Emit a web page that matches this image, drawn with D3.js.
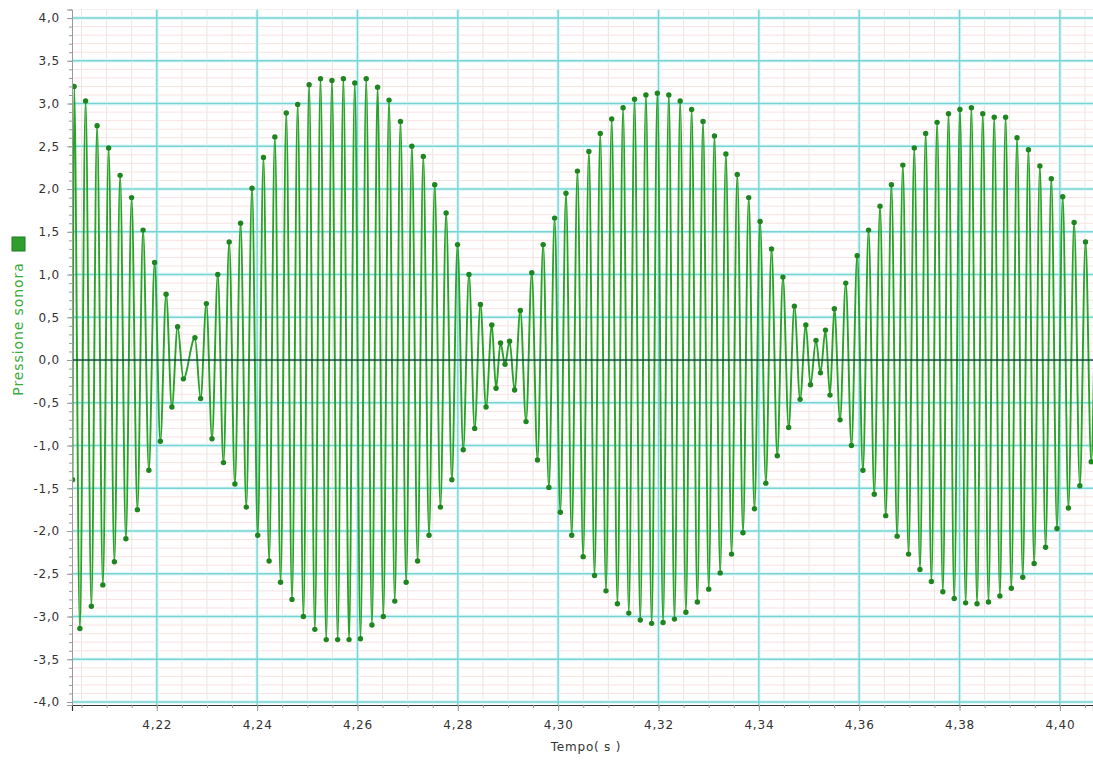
<!DOCTYPE html>
<html><head><meta charset="utf-8">
<script src="https://cdn.jsdelivr.net/npm/d3@7"></script>
<style>
body{margin:0;background:#fff;}
svg{display:block;}
text{font-family:"DejaVu Sans",Verdana,sans-serif;}
</style>
</head><body>
<svg id="chart" width="1093" height="761"></svg>
<script>
// ---- data (time in s, pressure in arbitrary units) ----
const peakTimes = [
 4.20352,4.20581,4.20810,4.21040,4.21269,4.21498,4.21727,4.21956,4.22186,4.22415,
 4.22760,4.22988,4.23215,4.23443,4.23670,4.23898,4.24126,4.24353,4.24581,4.24808,
 4.25036,4.25263,4.25491,4.25719,4.25946,4.26174,4.26401,4.26629,4.26857,4.27084,
 4.27312,4.27539,4.27767,4.27994,4.28222,4.28450,4.28677,
 4.28851,4.29031,
 4.29246,4.29474,4.29701,4.29929,4.30156,4.30384,4.30612,4.30839,4.31067,4.31294,
 4.31522,4.31749,4.31977,4.32205,4.32432,4.32660,4.32887,4.33115,4.33343,4.33570,
 4.33798,4.34025,4.34253,4.34480,4.34708,4.34936,
 4.35139,4.35328,
 4.35505,4.35732,4.35960,4.36187,4.36415,4.36642,4.36870,4.37098,4.37325,4.37553,
 4.37780,4.38008,4.38236,4.38463,4.38691,4.38918,4.39146,4.39373,4.39601,4.39829,
 4.40056,4.40284,4.40511,4.40739
];
const peakValues = [
 3.20,3.03,2.74,2.48,2.16,1.90,1.52,1.14,0.77,0.39,
 0.26,0.66,1.00,1.38,1.60,2.01,2.37,2.61,2.89,2.99,
 3.22,3.29,3.27,3.29,3.24,3.29,3.19,3.04,2.79,2.50,
 2.38,2.05,1.72,1.35,1.00,0.65,0.41,
 0.20,0.22,
 0.58,1.02,1.35,1.66,1.95,2.21,2.44,2.65,2.82,2.95,
 3.05,3.10,3.12,3.10,3.03,2.93,2.79,2.62,2.41,2.17,
 1.90,1.62,1.30,0.97,0.63,0.41,
 0.23,0.35,
 0.60,0.90,1.22,1.52,1.80,2.05,2.28,2.48,2.65,2.78,
 2.88,2.93,2.95,2.88,2.84,2.84,2.60,2.46,2.27,2.12,
 1.91,1.61,1.38,1.15
];
const troughTimes = [
 4.20320,
 4.20467,4.20696,4.20925,4.21155,4.21384,4.21613,4.21842,4.22071,4.22301,4.22530,
 4.22874,4.23101,4.23329,4.23557,4.23784,4.24012,4.24239,4.24467,4.24695,4.24922,
 4.25150,4.25377,4.25605,4.25832,4.26060,4.26288,4.26515,4.26743,4.26970,4.27198,
 4.27426,4.27653,4.27881,4.28108,4.28336,4.28563,
 4.28762,4.28941,4.29132,
 4.29360,4.29588,4.29815,4.30043,4.30270,4.30498,4.30725,4.30953,4.31181,4.31408,
 4.31636,4.31863,4.32091,4.32318,4.32546,4.32774,4.33001,4.33229,4.33456,4.33684,
 4.33912,4.34139,4.34367,4.34594,4.34822,
 4.35029,4.35228,4.35418,
 4.35618,4.35846,4.36074,4.36301,4.36529,4.36756,4.36984,4.37211,4.37439,4.37667,
 4.37894,4.38122,4.38349,4.38577,4.38804,4.39032,4.39260,4.39487,4.39715,4.39942,
 4.40170,4.40398,4.40625,4.40853
];
const troughValues = [
 -1.40,
 -3.14,-2.88,-2.63,-2.36,-2.09,-1.75,-1.29,-0.95,-0.55,-0.22,
 -0.45,-0.92,-1.20,-1.45,-1.72,-2.05,-2.35,-2.60,-2.80,-3.00,
 -3.15,-3.27,-3.27,-3.27,-3.26,-3.10,-3.00,-2.82,-2.60,-2.35,
 -2.05,-1.72,-1.40,-1.05,-0.80,-0.55,
 -0.33,-0.05,-0.35,
 -0.72,-1.17,-1.49,-1.78,-2.05,-2.30,-2.52,-2.70,-2.85,-2.96,
 -3.04,-3.08,-3.07,-3.03,-2.95,-2.83,-2.68,-2.49,-2.27,-2.02,
 -1.74,-1.44,-1.12,-0.79,-0.46,
 -0.29,-0.15,-0.41,
 -0.70,-1.00,-1.29,-1.57,-1.82,-2.06,-2.27,-2.45,-2.59,-2.71,
 -2.79,-2.84,-2.85,-2.83,-2.76,-2.67,-2.54,-2.38,-2.19,-1.97,
 -1.73,-1.47,-1.19,-0.90
];
const xTickValues = [4.22,4.24,4.26,4.28,4.30,4.32,4.34,4.36,4.38,4.40];
const yTickValues = [-4.0,-3.5,-3.0,-2.5,-2.0,-1.5,-1.0,-0.5,0.0,0.5,1.0,1.5,2.0,2.5,3.0,3.5,4.0];
const xTitle = "Tempo( s )";
const yTitle = "Pressione sonora";

// ---- layout ----
const svg = d3.select("#chart");
const L = 72, R = 1093, T = 9.5, B = 705;
const x = d3.scaleLinear().domain([4.2031, 4.4066]).range([L, R]);
const y = d3.scaleLinear().domain([-4.035, 4.1]).range([B, T]);
const comma = f => (d => d3.format(f)(d).replace(".", ",").replace("−", "-"));

svg.append("rect").attr("width", 1093).attr("height", 761).attr("fill", "#fff");

svg.append("defs").append("clipPath").attr("id", "clip")
  .append("rect").attr("x", L).attr("y", T).attr("width", R - L).attr("height", B - T);

const grid = svg.append("g").attr("clip-path", "url(#clip)");
const minorY = d3.range(-40, 42).map(i => i / 10);
const minorX = d3.range(841, 882).map(i => i * 0.005);

grid.selectAll(".mx").data(minorX).join("line")
  .attr("x1", d => x(d)).attr("x2", d => x(d)).attr("y1", T).attr("y2", B)
  .attr("stroke", "#ebe4e4").attr("stroke-width", 1);
grid.selectAll(".my").data(minorY).join("line")
  .attr("x1", L).attr("x2", R).attr("y1", d => y(d)).attr("y2", d => y(d))
  .attr("stroke", "#f8e2e2").attr("stroke-width", 1);

// major grid with light halo
[["#e4f8f8", 4], ["#78d4d4", 1.4]].forEach(([c, w]) => {
  grid.append("g").selectAll("line").data(xTickValues).join("line")
    .attr("x1", d => x(d)).attr("x2", d => x(d)).attr("y1", T).attr("y2", B)
    .attr("stroke", c).attr("stroke-width", w);
  grid.append("g").selectAll("line").data(yTickValues).join("line")
    .attr("x1", L).attr("x2", R).attr("y1", d => y(d)).attr("y2", d => y(d))
    .attr("stroke", c).attr("stroke-width", w);
});

// ---- data ----
const pts = peakTimes.map((t, i) => ({t, v: peakValues[i]}))
  .concat(troughTimes.map((t, i) => ({t, v: troughValues[i]})))
  .sort((a, b) => a.t - b.t);

const dataG = svg.append("g").attr("clip-path", "url(#clip)");
const line = d3.line().x(d => x(d.t)).y(d => y(d.v)).curve(d3.curveMonotoneX);
dataG.append("path").datum(pts).attr("d", line)
  .attr("fill", "none").attr("stroke", "#27a327").attr("stroke-width", 1.9)
  .attr("stroke-linejoin", "round");
dataG.selectAll("circle").data(pts).join("circle")
  .attr("cx", d => x(d.t)).attr("cy", d => y(d.v)).attr("r", 2.7)
  .attr("fill", "#1e861e");

// zero line
svg.append("line").attr("x1", L).attr("x2", R).attr("y1", y(0)).attr("y2", y(0))
  .attr("stroke", "#111").attr("stroke-width", 1);

// ---- axes ----
const xAxis = svg.append("g").attr("transform", `translate(0,${B})`)
  .call(d3.axisBottom(x).tickValues(xTickValues).tickFormat(comma(".2f")).tickSize(6).tickPadding(9));
svg.append("g").attr("transform", `translate(0,${B})`)
  .call(d3.axisBottom(x).tickValues(minorX).tickFormat("").tickSize(3))
  .call(g => g.select(".domain").remove());
const yAxis = svg.append("g").attr("transform", `translate(${L},0)`)
  .call(d3.axisLeft(y).tickValues(yTickValues).tickFormat(comma(".1f")).tickSize(5).tickPadding(7));
svg.append("g").attr("transform", `translate(${L},0)`)
  .call(d3.axisLeft(y).tickValues(minorY).tickFormat("").tickSize(3))
  .call(g => g.select(".domain").remove());

svg.selectAll(".tick line").attr("stroke", "#9a9a9a");
xAxis.select(".domain").attr("stroke", "#333").attr("stroke-width", 1.2);
yAxis.select(".domain").attr("stroke", "#9a9a9a");
svg.selectAll(".tick text").attr("fill", "#333").style("font-size", "12px").style("letter-spacing", "0.8px");

// titles
svg.append("text").attr("x", 586).attr("y", 751).attr("text-anchor", "middle")
  .attr("fill", "#333").style("font-size", "12px").style("letter-spacing", "0.8px").text(xTitle);
svg.append("text").attr("transform", "translate(23,329) rotate(-90)").attr("text-anchor", "middle")
  .attr("fill", "#3aaa3a").style("font-size", "14px").style("letter-spacing", "0.9px").text(yTitle);
svg.append("rect").attr("x", 12).attr("y", 237).attr("width", 13).attr("height", 14)
  .attr("fill", "#2e9e2e").attr("stroke", "#1d7a1d");
</script>
</body></html>
